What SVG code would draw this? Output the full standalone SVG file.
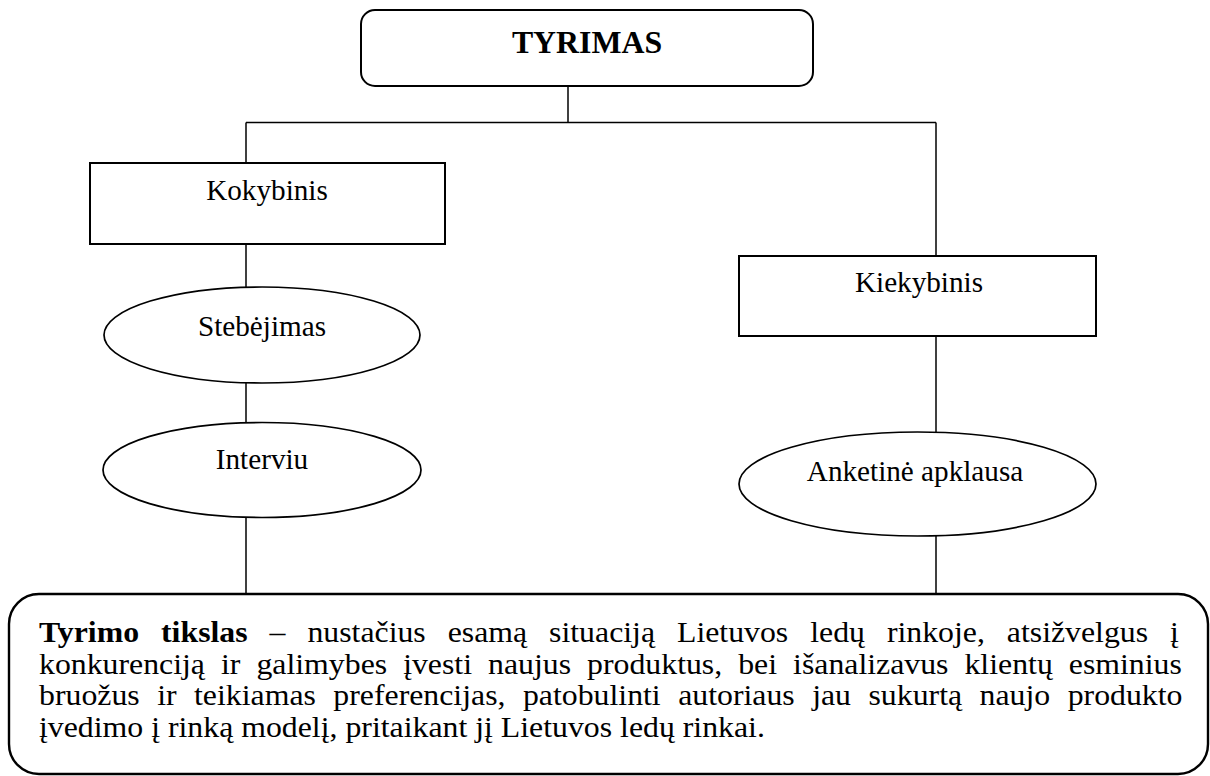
<svg xmlns="http://www.w3.org/2000/svg" width="1210" height="776" viewBox="0 0 1210 776">
  <style>
    .box { fill: #fff; stroke: #000; stroke-width: 2; }
    .oval { fill: #fff; stroke: #000; stroke-width: 1.7; }
    .wire { fill: none; stroke: #000; stroke-width: 1.5; }
    .lbl { font-family: "Liberation Serif", "Times New Roman", serif; font-size: 29.2px; fill: #000; text-anchor: middle; }
    .head { font-family: "Liberation Serif", "Times New Roman", serif; font-size: 31.8px; font-weight: bold; fill: #000; text-anchor: middle; }
    .para { font-family: "Liberation Serif", "Times New Roman", serif; font-size: 28.4px; fill: #000; }
    .b { font-weight: bold; }
  </style>
  <rect width="1210" height="776" fill="#fff"/>

  <!-- connectors -->
  <g id="connectors" class="wire">
    <line x1="568" y1="86" x2="568" y2="122.5"/>
    <line x1="246" y1="122.5" x2="936" y2="122.5"/>
    <line x1="246" y1="122.5" x2="246" y2="163"/>
    <line x1="936" y1="122.5" x2="936" y2="256"/>
    <line x1="246" y1="244" x2="246" y2="287"/>
    <line x1="246" y1="383" x2="246" y2="422.5"/>
    <line x1="246" y1="517.5" x2="246" y2="594"/>
    <line x1="936" y1="336" x2="936" y2="432"/>
    <line x1="936" y1="536" x2="936" y2="594"/>
  </g>

  <g id="tyrimas">
    <rect class="box" x="361" y="10" width="452" height="76" rx="14" ry="14"/>
    <text class="head" x="587" y="53">TYRIMAS</text>
  </g>

  <g id="kokybinis">
    <rect class="box" x="90" y="163" width="355" height="81"/>
    <text class="lbl" x="267" y="200">Kokybinis</text>
  </g>

  <g id="stebejimas">
    <ellipse class="oval" cx="262" cy="335" rx="158" ry="48"/>
    <text class="lbl" x="262" y="336">Stebėjimas</text>
  </g>

  <g id="interviu">
    <ellipse class="oval" cx="262" cy="470" rx="159" ry="47.5"/>
    <text class="lbl" x="262" y="469">Interviu</text>
  </g>

  <g id="kiekybinis">
    <rect class="box" x="739" y="256" width="357" height="80"/>
    <text class="lbl" x="919" y="292">Kiekybinis</text>
  </g>

  <g id="anketine">
    <ellipse class="oval" cx="917.5" cy="484" rx="178.5" ry="52"/>
    <text class="lbl" x="915" y="481">Anketinė apklausa</text>
  </g>

  <g id="tikslas">
    <rect class="box" x="9" y="594" width="1199" height="180" rx="30" ry="30" style="stroke-width:2.4"/>
    <!-- paragraph set slightly wide, justified by word spacing -->
    <g transform="matrix(1.12 0 0 1 39 0)">
      <text class="para" x="0" y="642" word-spacing="12.5"><tspan class="b">Tyrimo tikslas</tspan> – nustačius esamą situaciją Lietuvos ledų rinkoje, atsižvelgus į</text>
      <text class="para" x="0" y="674" word-spacing="7.2">konkurenciją ir galimybes įvesti naujus produktus, bei išanalizavus klientų esminius</text>
      <text class="para" x="0" y="705.5" word-spacing="8.5">bruožus ir teikiamas preferencijas, patobulinti autoriaus jau sukurtą naujo produkto</text>
      <text class="para" x="0" y="737.5">įvedimo į rinką modelį, pritaikant jį Lietuvos ledų rinkai.</text>
    </g>
  </g>
</svg>
